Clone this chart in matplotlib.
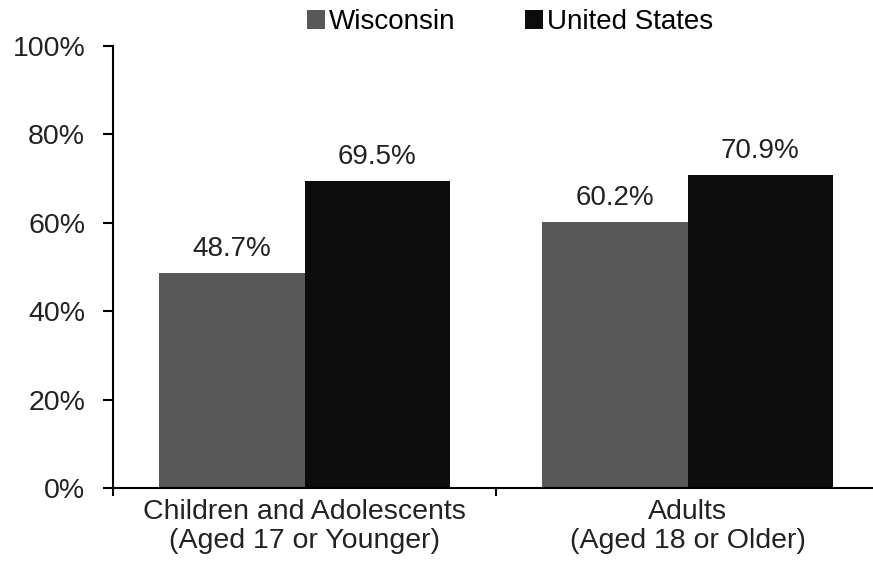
import numpy as np
import matplotlib.pyplot as plt
from matplotlib.ticker import FixedLocator

# данные
groups = ["Children and Adolescents\n(Aged 17 or Younger)", "Adults\n(Aged 18 or Older)"]
wisconsin = [48.7, 60.2]
united_states = [69.5, 70.9]
series_names = ["Wisconsin", "United States"]
y_ticks = [0, 20, 40, 60, 80, 100]

plt.rcParams['font.family'] = ['Liberation Sans', 'DejaVu Sans']

fig = plt.figure(figsize=(8.73, 5.61), dpi=100)
ax = fig.add_axes([113 / 873, 73 / 561, 766 / 873, 442 / 561])

x = np.arange(len(groups))
w = 0.38
b1 = ax.bar(x - w / 2, wisconsin, w, color="#585858", label=series_names[0])
b2 = ax.bar(x + w / 2, united_states, w, color="#0c0c0c", label=series_names[1])

for bars, vals in ((b1, wisconsin), (b2, united_states)):
    for r, v in zip(bars, vals):
        ax.annotate(f"{v:.1f}%", (r.get_x() + r.get_width() / 2, v),
                    xytext=(0, 8), textcoords="offset points",
                    ha="center", va="bottom", fontsize=20, color="#222222")

ax.set_xlim(-0.5, 1.5)
ax.set_ylim(0, 100)
ax.set_yticks(y_ticks)
ax.set_yticklabels([f"{t}%" for t in y_ticks], fontsize=20.5, color="#222222")
ax.set_xticks(x)
ax.set_xticklabels(groups, fontsize=20.5, color="#222222", linespacing=1.12)
ax.tick_params(axis="x", which="major", length=0, pad=8)
ax.xaxis.set_minor_locator(FixedLocator([-0.5, 0.5, 1.5]))
ax.tick_params(axis="x", which="minor", length=6, width=1.5, direction="out")
ax.tick_params(axis="y", length=7, width=1.5, pad=13)

for s in ("top", "right"):
    ax.spines[s].set_visible(False)
for s in ("left", "bottom"):
    ax.spines[s].set_linewidth(1.5)

fig.legend(loc="upper center", bbox_to_anchor=(0.584, 1.028), ncol=2, frameon=False,
           fontsize=20, handlelength=0.65, handleheight=0.65, handletextpad=0.15,
           columnspacing=2.5)

plt.savefig("out.png", dpi=100)
